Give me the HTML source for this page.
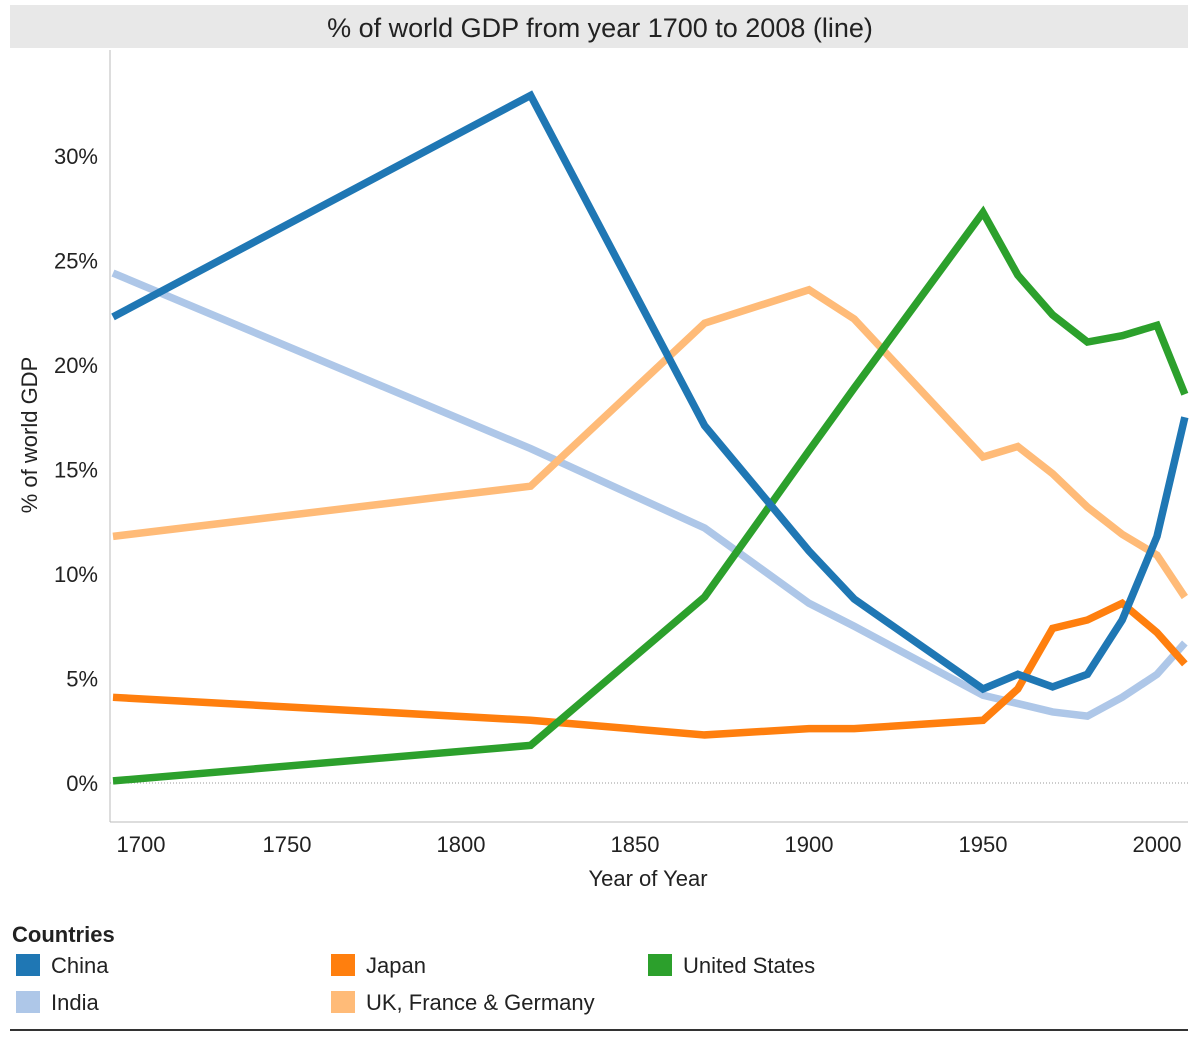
<!DOCTYPE html>
<html><head><meta charset="utf-8"><style>
body{margin:0;background:#fff;width:1200px;height:1042px;overflow:hidden;font-family:"Liberation Sans",sans-serif}
</style></head><body>
<svg id="chart" width="1200" height="1042">
<defs><clipPath id="plotclip"><rect x="110" y="50" width="1080" height="772"/></clipPath></defs>
<rect x="10" y="5" width="1178" height="43" fill="#e8e8e8"/>
<text x="600" y="37" text-anchor="middle" font-size="27" fill="#222">% of world GDP from year 1700 to 2008 (line)</text>
<line x1="110" y1="50" x2="110" y2="822" stroke="#bbb"/>
<line x1="110" y1="822" x2="1188" y2="822" stroke="#bbb"/>
<text transform="translate(37,435) rotate(-90)" text-anchor="middle" font-size="22" fill="#222">% of world GDP</text>
<text x="648" y="886" text-anchor="middle" font-size="22" fill="#222">Year of Year</text>
<g id="ticks"></g><g id="lines" clip-path="url(#plotclip)"></g>
<text x="12" y="942" font-size="22" font-weight="bold" fill="#222">Countries</text>
<g id="legend"></g>
<line x1="10" y1="1030" x2="1188" y2="1030" stroke="#333" stroke-width="2"/>
</svg>
<script>
const years=[1700,1820,1870,1900,1913,1950,1960,1970,1980,1990,2000,2008];
const china=[22.3,32.9,17.1,11.1,8.8,4.5,5.2,4.6,5.2,7.8,11.8,17.5];
const india=[24.4,16.0,12.2,8.6,7.5,4.2,3.8,3.4,3.2,4.1,5.2,6.7];
const japan=[4.1,3.0,2.3,2.6,2.6,3.0,4.5,7.4,7.8,8.6,7.2,5.7];
const usa=[0.1,1.8,8.9,15.9,18.9,27.3,24.3,22.4,21.1,21.4,21.9,18.6];
const ukfg=[11.8,14.2,22.0,23.6,22.2,15.6,16.1,14.8,13.2,11.9,10.9,8.9];
const xTicks=[1700,1750,1800,1850,1900,1950,2000];
const yTicks=[0,5,10,15,20,25,30];
const NS="http://www.w3.org/2000/svg";
const xs=y=>461+(y-1800)*3.48;
const ys=v=>783-v*20.9;
function mk(t,a,p){const e=document.createElementNS(NS,t);for(const k in a)e.setAttribute(k,a[k]);p.appendChild(e);return e;}
const tg=document.getElementById('ticks');
yTicks.forEach(v=>{const t=mk('text',{x:98,y:ys(v)+8,'text-anchor':'end','font-size':22,fill:'#222'},tg);t.textContent=v+'%';

});
const z=mk('line',{x1:110,x2:1188,y1:ys(0),y2:ys(0),stroke:'#999','stroke-dasharray':'1,2'},tg);


xTicks.forEach(v=>{const x=v===1700?141:xs(v);const t=mk('text',{x:x,y:852,'text-anchor':'middle','font-size':22,fill:'#222'},tg);t.textContent=v;

});
const lg=document.getElementById('lines');
const series=[[india,'#aec7e8','india-line'],[ukfg,'#ffbb78','ukfg-line'],[japan,'#ff7f0e','japan-line'],[usa,'#2ca02c','usa-line'],[china,'#1f77b4','china-line']];
series.forEach(s=>{const pts=years.map((y,i)=>xs(y)+','+ys(s[0][i])).join(' ');
const p=mk('polyline',{points:pts,fill:'none',stroke:s[1],'stroke-width':7.5,'stroke-linejoin':'miter'},lg);

});
const leg=document.getElementById('legend');
const items=[["China",'#1f77b4',16,954],["India",'#aec7e8',16,991],["Japan",'#ff7f0e',331,954],["UK, France & Germany",'#ffbb78',331,991],["United States",'#2ca02c',648,954]];
items.forEach(it=>{const r=mk('rect',{x:it[2],y:it[3],width:24,height:22,fill:it[1]},leg);


const t=mk('text',{x:it[2]+35,y:it[3]+19,'font-size':22,fill:'#222'},leg);t.textContent=it[0];

});
</script>
</body></html>
